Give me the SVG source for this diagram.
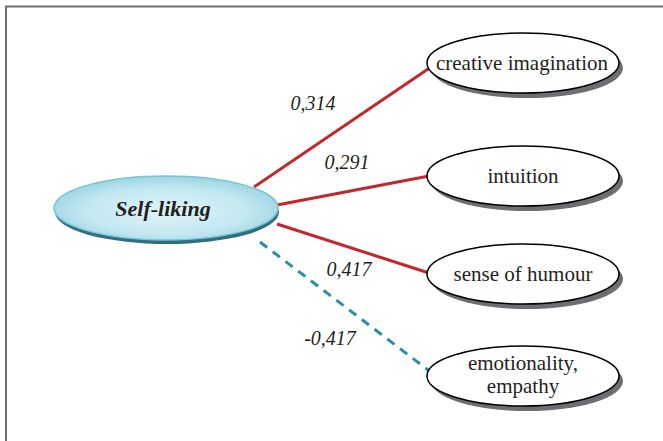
<svg xmlns="http://www.w3.org/2000/svg" width="663" height="441" viewBox="0 0 663 441">
<defs>
<radialGradient id="g" cx="0.5" cy="0.55" r="0.6">
<stop offset="0" stop-color="#dff3f8"/>
<stop offset="0.6" stop-color="#c4e8f1"/>
<stop offset="1" stop-color="#8fd0e0"/>
</radialGradient>
</defs>
<style>
.n{fill:#fff;stroke:#000;stroke-width:1.5}
.s{fill:#6d6e71}
.r{stroke:#c1272d;stroke-width:3;fill:none}
.d{stroke:#2b8ea3;stroke-width:3;fill:none;stroke-dasharray:9 7}
.t{fill:#231f20}
</style>
<rect width="663" height="441" fill="#fff"/>
<path d="M6 441 V6.5 H663" fill="none" stroke="#6d6e71" stroke-width="2"/>
<g id="connectors">
<line class="r" x1="254" y1="187" x2="431" y2="67"/>
<line class="r" x1="277" y1="205" x2="429" y2="176"/>
<line class="r" x1="277" y1="224" x2="429" y2="273"/>
<line class="d" x1="260" y1="242" x2="432" y2="373"/>
<g text-anchor="middle" font-family="Liberation Serif, serif" font-size="20" font-style="italic">
<text class="t" x="313" y="110">0,314</text>
<text class="t" x="347" y="169">0,291</text>
<text class="t" x="349" y="276">0,417</text>
<text class="t" x="330" y="345">-0,417</text>
</g>
</g>
<g id="self-liking">
<ellipse cx="167" cy="212" rx="112" ry="32" fill="#2f6f80"/>
<ellipse cx="166" cy="208" rx="112" ry="32" fill="url(#g)" stroke="#7cc3d3" stroke-width="1.5"/>
<text class="t" font-family="Liberation Serif, serif" text-anchor="middle" x="163" y="216" font-size="22" font-weight="bold" font-style="italic">Self-liking</text>
</g>
<g font-family="Liberation Serif, serif" text-anchor="middle" font-size="21">
<g id="creative-imagination">
<ellipse class="s" cx="527" cy="68" rx="96" ry="30"/>
<ellipse class="n" cx="523" cy="63" rx="96" ry="30"/>
<text class="t" x="522" y="70">creative imagination</text>
</g>
<g id="intuition">
<ellipse class="s" cx="527" cy="181" rx="96" ry="30"/>
<ellipse class="n" cx="523" cy="176" rx="96" ry="30"/>
<text class="t" x="523" y="183">intuition</text>
</g>
<g id="sense-of-humour">
<ellipse class="s" cx="527" cy="279" rx="96" ry="30"/>
<ellipse class="n" cx="523" cy="274" rx="96" ry="30"/>
<text class="t" x="523" y="281">sense of humour</text>
</g>
<g id="emotionality-empathy">
<ellipse class="s" cx="527" cy="381" rx="96" ry="30"/>
<ellipse class="n" cx="523" cy="376" rx="96" ry="30"/>
<text class="t" x="523" y="370">emotionality,</text>
<text class="t" x="523" y="393">empathy</text>
</g>
</g>
</svg>
